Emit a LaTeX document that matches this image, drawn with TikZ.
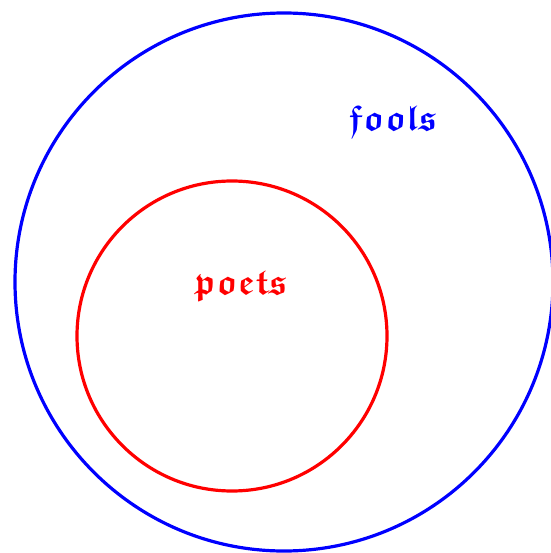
\documentclass[tikz,border=0pt]{standalone}
\usepackage{amssymb}
\usepackage{bm}
\begin{document}
\begin{tikzpicture}[x=1pt,y=-1pt, line join=round, line cap=round]
        \useasboundingbox (0,0) rectangle (550,553);
        \draw[blue,line width=3.2pt] (284,282) circle (269);
        \node[blue,font=\fontsize{36}{36}\selectfont] (fools) at (393,121) {$\bm{\mathfrak{fools}}$};
        \draw[red,line width=3.2pt] (232,336) circle (155);
        \node[red,font=\fontsize{36}{36}\selectfont] (poets) at (241,287) {$\bm{\mathfrak{poets}}$};
    \end{tikzpicture}
\end{document}
